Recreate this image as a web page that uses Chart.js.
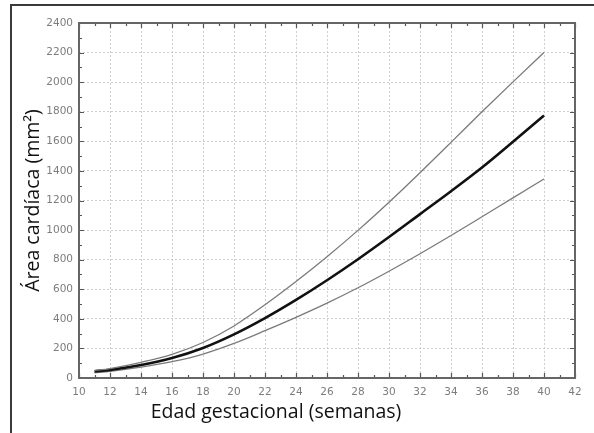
<!DOCTYPE html>
<html>
<head>
<meta charset="utf-8">
<script src="https://cdn.jsdelivr.net/npm/chart.js@4.4.1/dist/chart.umd.min.js"></script>
<style>
  html, body { margin: 0; padding: 0; background: #fff; }
  #wrap { position: relative; width: 594px; height: 433px; }
  #frame { position: absolute; left: 10px; top: 4px; right: 0; bottom: 0;
           border-top: 2px solid #3a3a3a; border-left: 2px solid #3a3a3a; }
  canvas { position: absolute; left: 0; top: 0; }
</style>
</head>
<body>
<div id="wrap">
  <div id="frame"></div>
  <canvas id="chart" width="594" height="433"></canvas>
</div>
<script>
'use strict';

// Gestational weeks
var weeks = [11, 12, 14, 16, 18, 20, 22, 24, 26, 28, 30, 32, 34, 36, 38, 40];

// Cardiac area (mm2): mean and upper / lower bounds
var meanArea  = [45, 55, 88, 135, 203, 295, 405, 528, 661, 803, 953, 1108, 1263, 1423, 1597, 1775];
var upperArea = [50, 64, 106, 160, 240, 352, 495, 652, 820, 998, 1188, 1388, 1593, 1800, 2002, 2200];
var lowerArea = [35, 45, 73, 110, 162, 234, 320, 410, 506, 610, 722, 840, 963, 1090, 1218, 1345];

var xTitle = 'Edad gestacional (semanas)';
var yTitle = 'Área cardíaca (mm²)';

function toPoints(values) {
    return weeks.map(function (w, i) { return { x: w, y: values[i] }; });
}

/**
 * Draws the box round the plot, the inward tick marks on all four sides and the axis titles
 */
var boxTicks = {
    id: 'boxTicks',
    afterDatasetsDraw: function (chart) {
        var ctx = chart.ctx;
        var a   = chart.chartArea;
        var xs  = chart.scales.x;
        var ys  = chart.scales.y;
        var v, p, len;

        ctx.save();
        ctx.strokeStyle = '#555';
        ctx.lineWidth = 1.2;
        for (v = xs.min; v <= xs.max; v += 1) {
            p = Math.round(xs.getPixelForValue(v)) + 0.5;
            len = (v % 2 === 0) ? 5 : 3;
            ctx.beginPath();
            ctx.moveTo(p, a.bottom); ctx.lineTo(p, a.bottom - len);
            ctx.moveTo(p, a.top); ctx.lineTo(p, a.top + len);
            ctx.stroke();
        }
        for (v = ys.min; v <= ys.max; v += 100) {
            p = Math.round(ys.getPixelForValue(v)) + 0.5;
            len = (v % 200 === 0) ? 5 : 3;
            ctx.beginPath();
            ctx.moveTo(a.left, p); ctx.lineTo(a.left + len, p);
            ctx.moveTo(a.right, p); ctx.lineTo(a.right - len, p);
            ctx.stroke();
        }
        ctx.strokeStyle = '#666';
        ctx.lineWidth = 2;
        ctx.strokeRect(a.left, a.top, a.right - a.left, a.bottom - a.top);

        // Axis titles
        ctx.fillStyle = '#111';
        ctx.font = '19.5px "Open Sans", "Noto Sans", sans-serif';
        ctx.textAlign = 'center';
        ctx.textBaseline = 'middle';
        ctx.fillText(xTitle, 276, 412);
        ctx.translate(33, (a.top + a.bottom) / 2);
        ctx.rotate(-Math.PI / 2);
        ctx.fillText(yTitle, 0, 0);
        ctx.restore();
    }
};

var tickFont = { family: '"DejaVu Sans", sans-serif', size: 10.5 };

new Chart(document.getElementById('chart'), {
    type: 'line',
    data: {
        datasets: [
            { data: toPoints(upperArea), borderColor: '#7a7a7a', borderWidth: 1.3 },
            { data: toPoints(meanArea),  borderColor: '#111',    borderWidth: 2.6 },
            { data: toPoints(lowerArea), borderColor: '#7a7a7a', borderWidth: 1.3 }
        ]
    },
    options: {
        responsive: false,
        animation: false,
        layout: { padding: { top: 23, right: 19, left: 0, bottom: 0 } },
        elements: {
            point: { radius: 0 },
            line: { fill: false, cubicInterpolationMode: 'monotone' }
        },
        plugins: { legend: { display: false }, tooltip: { enabled: false } },
        scales: {
            x: {
                type: 'linear',
                min: 10,
                max: 42,
                afterFit: function (s) { s.height = 433 - 23 - 355; },
                ticks: { stepSize: 2, color: '#7d7d7d', font: tickFont, padding: 8,
                         callback: function (v) { return String(v); } },
                grid: { color: '#cfcfcf', lineWidth: 1, drawTicks: false },
                border: { display: false, dash: [2, 2] }
            },
            y: {
                min: 0,
                max: 2400,
                afterFit: function (s) { s.width = 79; },
                ticks: { stepSize: 200, color: '#7d7d7d', font: tickFont, padding: 6,
                         callback: function (v) { return String(v); } },
                grid: { color: '#cfcfcf', lineWidth: 1, drawTicks: false },
                border: { display: false, dash: [2, 2] }
            }
        }
    },
    plugins: [boxTicks]
});
</script>
</body>
</html>
